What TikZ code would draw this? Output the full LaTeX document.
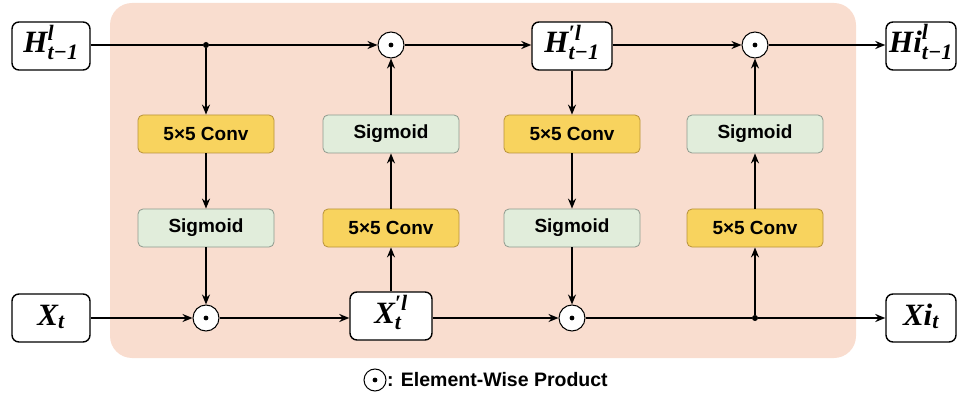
\documentclass[tikz,border=0pt]{standalone}
\usepackage{amsmath}
\usepackage{bm}
\usepackage{fontspec}
\setmainfont{Liberation Sans}
\newfontfamily\lblfont{Liberation Serif}
\newcommand{\lb}[1]{\text{\lblfont\bfseries\itshape #1}}
\newcommand{\lbs}[1]{\text{\fontsize{22}{24}\selectfont\lblfont\bfseries\itshape #1}}
\newcommand{\lbp}{\text{\fontsize{22}{24}\selectfont\lblfont\bfseries\itshape\char"2032}}
\usetikzlibrary{arrows.meta}
\definecolor{bgpeach}{HTML}{F9DDCF}
\definecolor{convfill}{HTML}{F8D35E}
\definecolor{convline}{HTML}{B8923A}
\definecolor{sigfill}{HTML}{E1EDDB}
\definecolor{sigline}{HTML}{8E9A8E}
\tikzset{
  conn/.style={line width=1.6pt, -{Stealth[length=10pt,width=8pt]}},
  plain/.style={line width=1.6pt},
  convbox/.style={draw=convline, fill=convfill, rounded corners=5pt, line width=0.8pt, minimum width=136pt, minimum height=38pt, font=\fontsize{19}{22}\selectfont\bfseries},
  sigbox/.style={draw=sigline, fill=sigfill, rounded corners=5pt, line width=0.8pt, minimum width=136pt, minimum height=38pt, font=\fontsize{19}{22}\selectfont\bfseries},
  varbox/.style={draw=black, fill=white, rounded corners=7pt, line width=1.4pt, minimum height=48pt, text height=22pt, text depth=8pt, inner sep=0pt, font=\fontsize{31}{34}\selectfont},
  prod/.style={circle, draw=black, fill=white, line width=1pt, minimum size=26pt, inner sep=0pt},
  jdot/.style={circle, fill=black, minimum size=6pt, inner sep=0pt}
}
\newcommand{\proddot}[1]{\fill[black] (#1) circle (2.4pt);}
\begin{document}
\begin{tikzpicture}[x=1pt,y=-1pt]
\useasboundingbox (0,0) rectangle (961,398);
\fill[bgpeach, rounded corners=22pt] (110,3) rectangle (856,358);

% input / output variable boxes
\node[varbox, minimum width=78pt] (H) at (51,46) {$\lb{H}^{\lbs{l}}_{\lbs{t−1}}$};
\node[varbox, minimum width=78pt] (X) at (51,318) {$\lb{X}_{\lbs{t}}$};
\node[varbox, minimum width=80pt] (Hp) at (572,46) {$\lb{H}^{\lbp\lbs{l}}_{\lbs{t−1}}$};
\node[varbox, minimum width=82pt] (Xp) at (391,316) {$\lb{X}^{\lbp\lbs{l}}_{\lbs{t}}$};
\node[varbox, minimum width=70pt] (Hi) at (921,46) {$\lb{Hi}^{\lbs{l}}_{\lbs{t−1}}$};
\node[varbox, minimum width=70pt] (Xi) at (921,318) {$\lb{Xi}_{\lbs{t}}$};

% gate blocks
\node[convbox] (c1) at (206,134) {5×5 Conv};
\node[sigbox]  (s1) at (206,228) {Sigmoid};
\node[convbox] (c2) at (391,228) {5×5 Conv};
\node[sigbox]  (s2) at (391,134) {Sigmoid};
\node[convbox] (c3) at (572,134) {5×5 Conv};
\node[sigbox]  (s3) at (572,228) {Sigmoid};
\node[convbox] (c4) at (755,228) {5×5 Conv};
\node[sigbox]  (s4) at (755,134) {Sigmoid};

% products
\node[prod] (p1) at (206,318) {};
\node[prod] (p2) at (391,45) {};
\node[prod] (p3) at (572,318) {};
\node[prod] (p4) at (755,45) {};
\proddot{p1}\proddot{p2}\proddot{p3}\proddot{p4}

% junctions
\node[jdot] (j1) at (206,45) {};
\node[jdot] (j2) at (755,318) {};

% top path
\draw[plain] (H.east |- j1) -- (j1);
\draw[conn] (j1) -- (p2.west);
\draw[conn] (j1) -- (c1.north);
\draw[conn] (p2.east) -- (Hp.west |- p2);
\draw[conn] (Hp.south) -- (c3.north);
\draw[conn] (Hp.east |- p4) -- (p4.west);
\draw[conn] (p4.east) -- (Hi.west |- p4);

% column 1
\draw[conn] (c1) -- (s1);
\draw[conn] (s1) -- (p1);
% column 2
\draw[conn] (Xp.north) -- (c2.south);
\draw[conn] (c2) -- (s2);
\draw[conn] (s2) -- (p2);
% column 3
\draw[conn] (c3) -- (s3);
\draw[conn] (s3) -- (p3);
% column 4
\draw[conn] (j2) -- (c4.south);
\draw[conn] (c4) -- (s4);
\draw[conn] (s4) -- (p4);

% bottom path
\draw[conn] (X.east) -- (p1.west);
\draw[conn] (p1.east) -- (Xp.west |- p1);
\draw[conn] (Xp.east |- p3) -- (p3.west);
\draw[plain] (p3.east) -- (j2);
\draw[conn] (j2) -- (Xi.west);

% legend
\node[prod, minimum size=22pt] (lg) at (375,380) {};
\proddot{lg}
\node[anchor=west, inner sep=0pt, font=\fontsize{19.5}{22}\selectfont\bfseries] (lgt) at (387,380) {: Element-Wise Product};
\end{tikzpicture}
\end{document}
